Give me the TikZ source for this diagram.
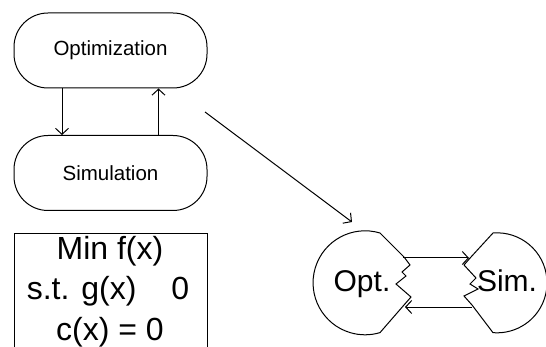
\documentclass[tikz,border=0pt]{standalone}
\usepackage{fontspec}
\setmainfont{Liberation Sans}
\usetikzlibrary{arrows.meta}
\begin{document}
\begin{tikzpicture}[x=1pt,y=-1pt, line width=1pt,
  arr/.style={-{Straight Barb[length=6pt,width=13pt]}},
  pill/.style={draw, rounded corners=34pt, minimum width=193pt, minimum height=75pt, font=\fontsize{20.5}{24}\selectfont, inner sep=0pt},
  big/.style={font=\fontsize{32}{38}\selectfont, anchor=base, inner sep=0pt},
  mid/.style={font=\fontsize{30}{36}\selectfont, anchor=base, inner sep=0pt}]
\clip (0,0) rectangle (546,347);
\fill[white] (0,0) rectangle (546,347);
% left column
\node[pill] (opt) at (110.5,50.5) {Optimization};
\node[pill] (sim) at (110.5,173) {Simulation};
\draw[arr] ([xshift=-48.5pt]opt.south) -- ([xshift=-48.5pt]sim.north);
\draw[arr] ([xshift=48pt]sim.north) -- ([xshift=48pt]opt.south);
% constraint box
\node[draw, anchor=north west, minimum width=193pt, minimum height=160pt, inner sep=0pt] (cons) at (14,233) {};
\node[big] (minf) at (110,260) {Min f(x)};
\node[big] (stg) at (108,300) {s.t. g(x)\hspace{35pt}0};
\node[big] (cx) at (110,340) {c(x) = 0};
% diagonal arrow
\coordinate (d1) at (205,112);
\coordinate (d2) at (352,222);
\draw[arr] (d1) -- (d2);
% Opt. shape
\draw (380,233) arc[start angle=73.3, end angle=286.7, radius=52pt]
  -- (404,305) -- (411,297) -- (396,284) -- (406,276) -- (402,272) -- (410,265) -- (404,257) -- cycle;
% Sim. shape
\draw (493,233) arc[start angle=94.6, end angle=-94.6, radius=50pt]
  -- (472,305) -- (464,296) -- (478,289) -- (470,284) -- (476,278) -- (464,265) -- (471,257) -- cycle;
\node[mid] (optt) at (362,292) {Opt.};
\node[mid] (simt) at (507,292) {Sim.};
\coordinate (a1) at (403,258);
\coordinate (a2) at (469,258);
\coordinate (b1) at (472,307);
\coordinate (b2) at (405,307);
\draw[arr] (a1) -- (a2);
\draw[arr] (b1) -- (b2);
\end{tikzpicture}
\end{document}
